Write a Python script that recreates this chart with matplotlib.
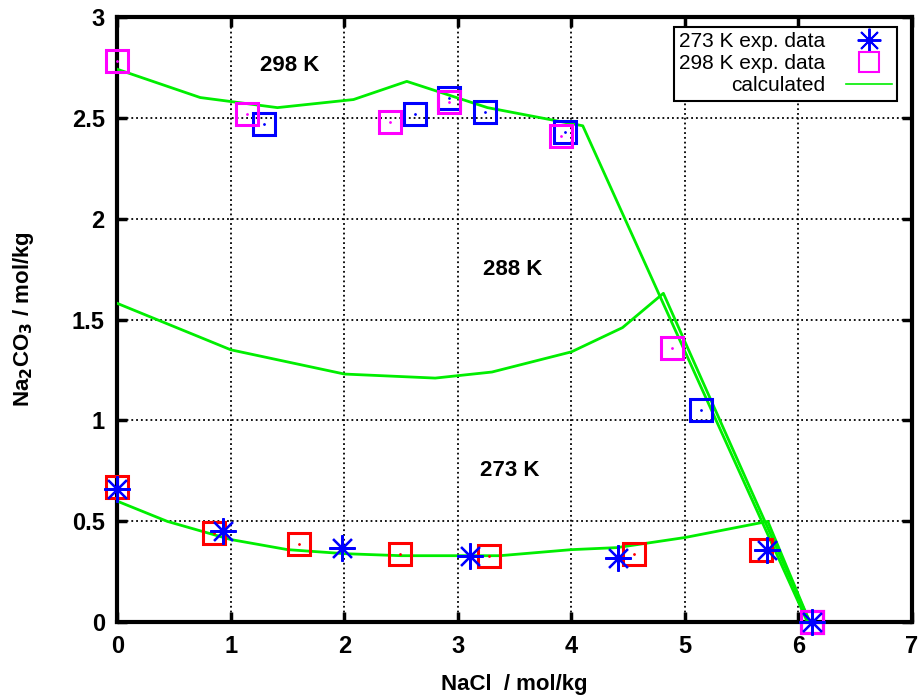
import matplotlib.pyplot as plt

plt.rcParams['font.family'] = ['Liberation Sans', 'DejaVu Sans']

# experimental data
x273_star = [0.0, 0.93, 1.98, 3.11, 4.41, 5.72, 6.12]
y273_star = [0.66, 0.45, 0.37, 0.33, 0.32, 0.36, 0.0]
x273_sq = [0.0, 0.85, 1.6, 2.49, 3.27, 4.55, 5.67, 6.12]
y273_sq = [0.67, 0.44, 0.39, 0.34, 0.33, 0.34, 0.36, 0.0]
x298_mag = [0.0, 1.14, 2.4, 2.92, 3.91, 4.89, 6.12]
y298_mag = [2.78, 2.52, 2.48, 2.58, 2.41, 1.36, 0.0]
x298_blue = [1.29, 2.62, 2.92, 3.24, 3.94, 5.14, 6.12]
y298_blue = [2.47, 2.52, 2.6, 2.53, 2.43, 1.05, 0.0]

# calculated curves
xc298 = [0.0, 0.73, 1.41, 2.08, 2.55, 3.26, 4.1, 6.08]
yc298 = [2.74, 2.6, 2.55, 2.59, 2.68, 2.55, 2.46, 0.0]
xc288 = [0.0, 1.0, 2.0, 2.8, 3.3, 4.0, 4.45, 4.81, 6.1]
yc288 = [1.58, 1.35, 1.23, 1.21, 1.24, 1.34, 1.46, 1.63, 0.0]
xc273 = [0.0, 0.44, 1.0, 1.5, 2.0, 2.5, 3.37, 4.0, 4.4, 5.0, 5.73, 6.1]
yc273 = [0.6, 0.5, 0.41, 0.36, 0.34, 0.33, 0.33, 0.36, 0.37, 0.42, 0.5, 0.0]

fig = plt.figure(figsize=(9.24, 7.0), dpi=100)
ax = fig.add_axes([0.127, 0.111, 0.86, 0.865])

green = '#00ee00'
ax.plot(xc298, yc298, color=green, lw=2, zorder=3)
ax.plot(xc288, yc288, color=green, lw=2, zorder=3)
ax.plot(xc273, yc273, color=green, lw=2, zorder=3)

sq = dict(marker='s', ms=16, mfc='none', mew=2.2, ls='none', zorder=4, clip_on=False)
dot = dict(marker='.', ms=2, ls='none', zorder=4, clip_on=False)
ax.plot(x273_sq, y273_sq, mec='red', **sq)
ax.plot(x273_sq, y273_sq, color='red', **dot)
ax.plot(x298_blue, y298_blue, mec='blue', **sq)
ax.plot(x298_blue, y298_blue, color='blue', **dot)
ax.plot(x298_mag, y298_mag, mec='#ff00ff', **sq)
ax.plot(x298_mag, y298_mag, color='#ff00ff', **dot)
ax.plot(x273_star, y273_star, marker=(8, 2, 0), ms=19, mew=1.6, color='blue',
        ls='none', zorder=5, clip_on=False)

# legend handles
h1, = ax.plot([], [], marker=(8, 2, 0), ms=17, mew=1.4, color='blue', ls='none')
h2, = ax.plot([], [], marker='s', ms=14, mfc='none', mew=1.5, mec='#ff00ff', ls='none')
h3, = ax.plot([], [], color=green, lw=1.2)
leg = ax.legend([h1, h2, h3], ['273 K exp. data', '298 K exp. data', 'calculated'],
                loc='upper right', bbox_to_anchor=(0.987, 0.99), markerfirst=False,
                fontsize=15, frameon=True, fancybox=False, edgecolor='black',
                framealpha=1, borderpad=0.25, labelspacing=0.15, handlelength=2.2,
                borderaxespad=0.2, handletextpad=1.0)
leg.get_frame().set_linewidth(1.5)
for t in leg.get_texts():
    t.set_ha('right')

ax.text(1.52, 2.76, '298 K', fontsize=16, fontweight='bold', ha='center', va='center')
ax.text(3.48, 1.75, '288 K', fontsize=16, fontweight='bold', ha='center', va='center')
ax.text(3.46, 0.75, '273 K', fontsize=16, fontweight='bold', ha='center', va='center')

ax.set_xlim(0, 7)
ax.set_ylim(0, 3)
ax.set_xticks(range(8))
ax.set_yticks([0, 0.5, 1, 1.5, 2, 2.5, 3])
ax.set_yticklabels(['0', '0.5', '1', '1.5', '2', '2.5', '3'])
ax.grid(True, color='black', ls=':', lw=1.3)
ax.tick_params(direction='in', length=7, width=2.5, top=True, right=True,
               labelsize=17, pad=9)
for lab in ax.get_xticklabels() + ax.get_yticklabels():
    lab.set_fontweight('bold')
for s in ax.spines.values():
    s.set_linewidth(3)

ax.set_xlabel('NaCl  / mol/kg', fontsize=16, fontweight='bold', labelpad=12)
ax.set_ylabel('Na$_\\mathbf{2}$CO$_\\mathbf{3}$ / mol/kg', fontsize=16, fontweight='bold',
              labelpad=26)

fig.savefig('out.png', dpi=100)
